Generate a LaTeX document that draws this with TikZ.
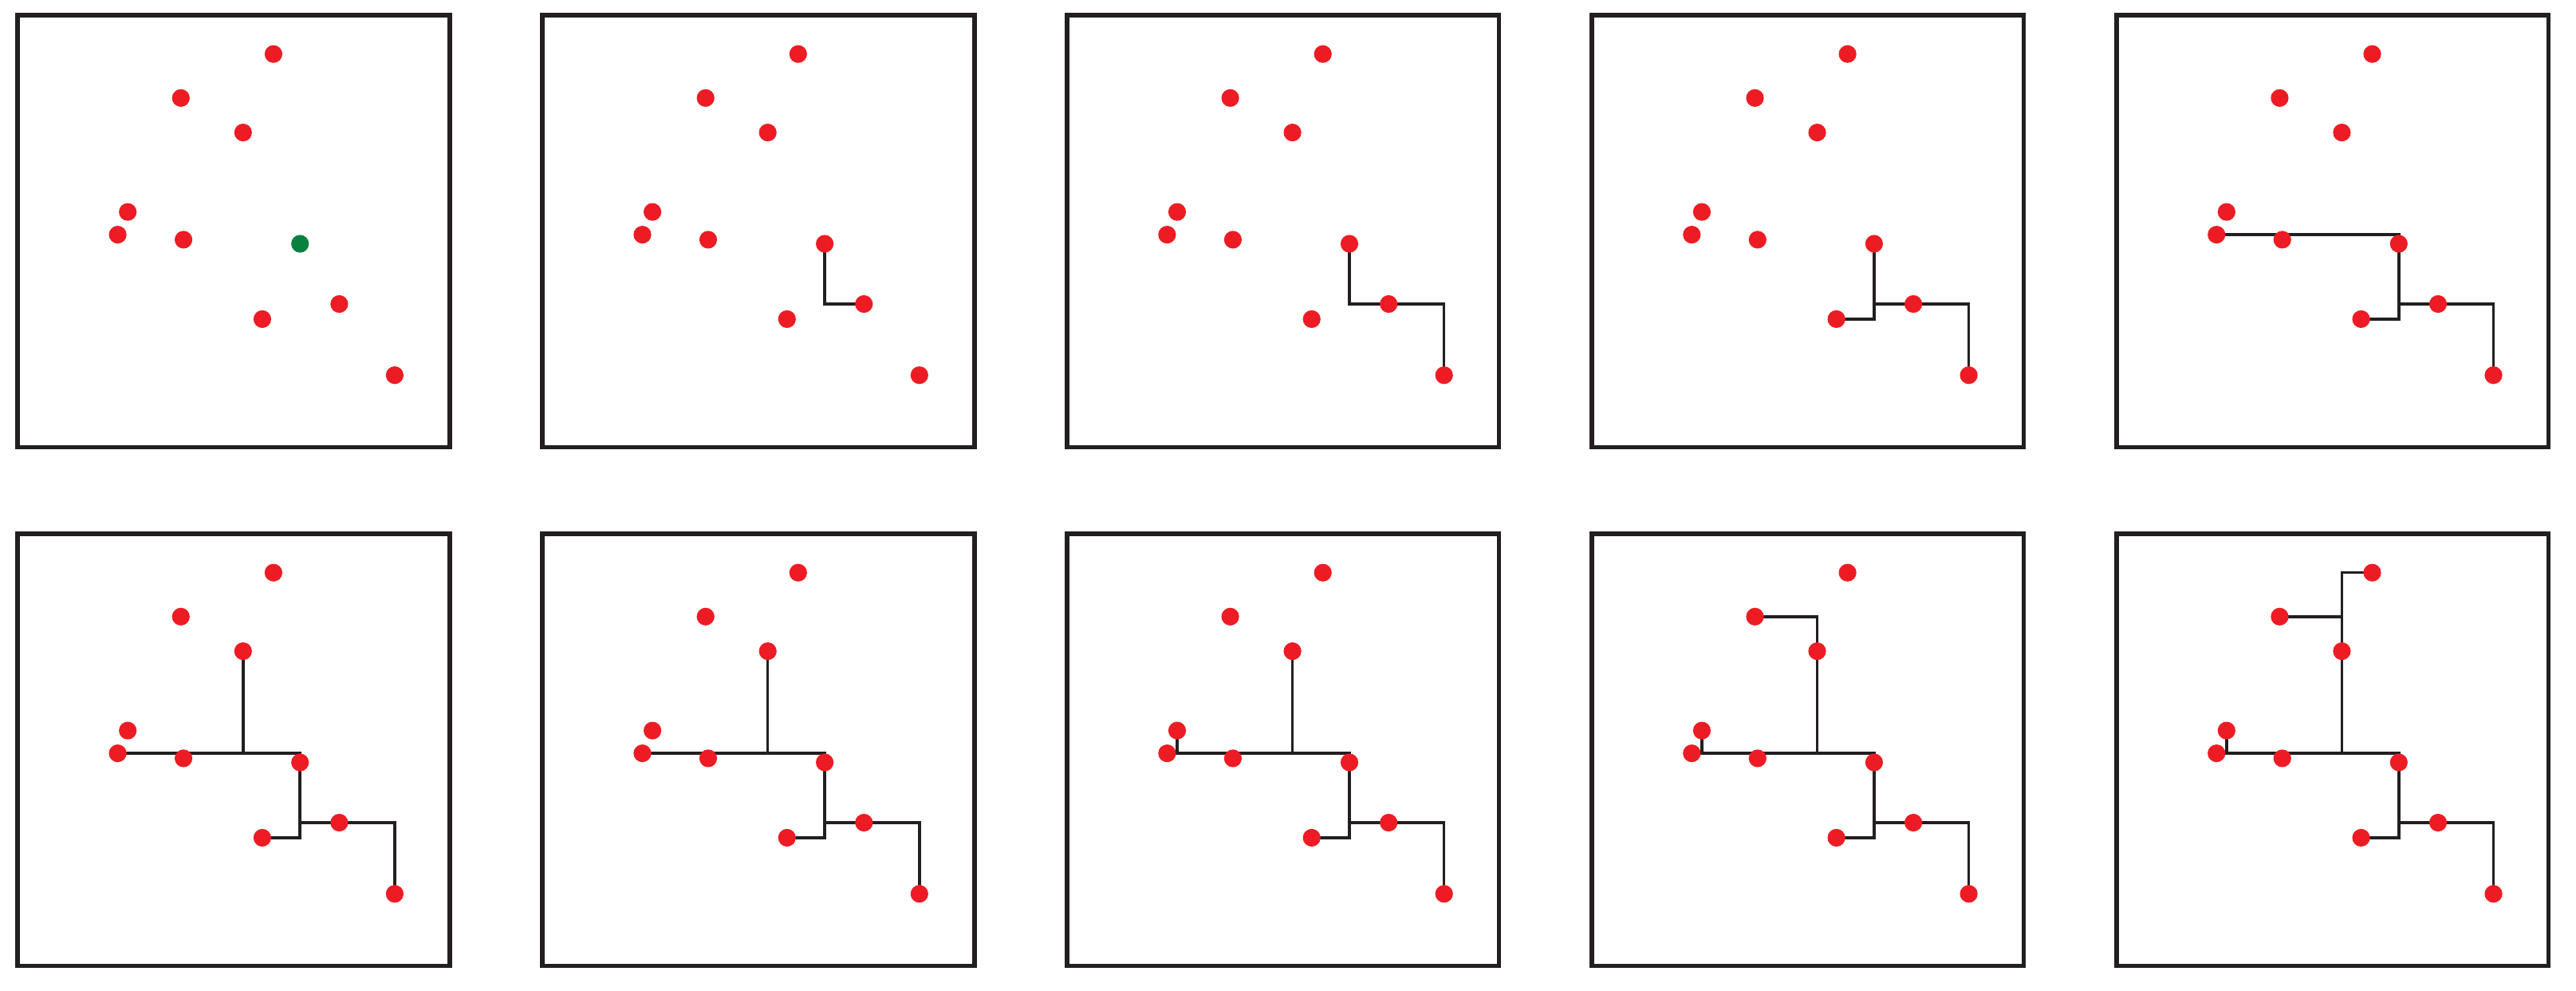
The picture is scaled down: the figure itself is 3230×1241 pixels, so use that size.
\documentclass[tikz,border=0pt]{standalone}
\usetikzlibrary{backgrounds}
\definecolor{dotred}{RGB}{237,28,36}
\definecolor{dotgreen}{RGB}{8,128,64}
\definecolor{ink}{RGB}{35,31,32}
\begin{document}
\begin{tikzpicture}[x=0.01cm,y=-0.01cm,
  frame/.style={draw=ink,line width=0.055cm},
  wire/.style={draw=ink,line width=0.035cm},
  dot/.style={circle,fill=dotred,inner sep=0pt,minimum size=0.222cm},
  gdot/.style={dot,fill=dotgreen}]
\useasboundingbox (0,0) rectangle (3230,1241);
\foreach \k in {1,...,10} {
  \pgfmathtruncatemacro{\r}{(\k-1)/5}
  \pgfmathtruncatemacro{\c}{mod(\k-1,5)}
  \def\gs{dot}\ifnum\k=1 \def\gs{gdot}\fi
  \begin{scope}[shift={(22.2+\c*657.9,18.9+\r*650)}]
    \draw[frame] (0,0) rectangle (541.7,541.7);
    \node[dot] (p1-\k) at (320.7,48.8) {};
    \node[dot] (p2-\k) at (204.6,103.9) {};
    \node[dot] (p3-\k) at (282.6,147.2) {};
    \node[dot] (p4-\k) at (138.0,246.7) {};
    \node[dot] (p5-\k) at (125.4,275.2) {};
    \node[dot] (p6-\k) at (207.9,281.5) {};
    \node[\gs] (g-\k)  at (354.0,286.6) {};
    \node[dot] (p7-\k) at (403.2,362.1) {};
    \node[dot] (p8-\k) at (306.7,381.0) {};
    \node[dot] (p9-\k) at (472.7,451.3) {};
    \begin{pgfonlayer}{background}
      \ifnum\k>1 \draw[wire] (g-\k.center) |- (p7-\k.center); \fi
      \ifnum\k>2 \draw[wire] (p7-\k.center) -| (p9-\k.center); \fi
      \ifnum\k>3 \draw[wire] (p8-\k.center) -| (g-\k.center); \fi
      \ifnum\k>4 \draw[wire] (p5-\k.center) -| (g-\k.center); \fi
      \ifnum\k>5 \draw[wire] (p3-\k.center) -- (p3-\k.center |- p5-\k.center); \fi
      \ifnum\k>7 \draw[wire] (p4-\k.center) -- (p4-\k.center |- p5-\k.center); \fi
      \ifnum\k>8 \draw[wire] (p2-\k.center) -| (p3-\k.center); \fi
      \ifnum\k>9 \draw[wire] (p1-\k.center) -| (p3-\k.center); \fi
    \end{pgfonlayer}
  \end{scope}
}
\end{tikzpicture}
\end{document}
